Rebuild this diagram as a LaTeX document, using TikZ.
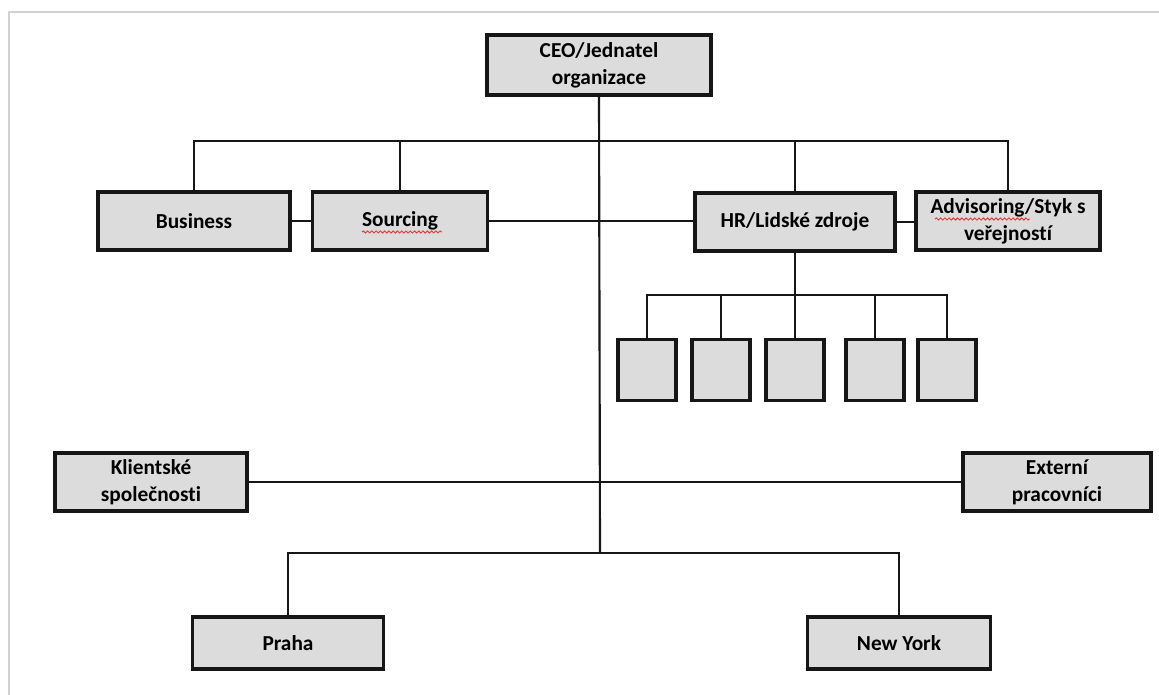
\documentclass[tikz,border=0pt]{standalone}
\usepackage{fontspec}
\setmainfont{Carlito}[Ligatures=NoCommon]
\usepackage{xcolor}
\usepackage{tikz}
\usetikzlibrary{positioning,decorations.pathmorphing}
\definecolor{OrgInk}{HTML}{161616}
\definecolor{OrgFill}{HTML}{DCDCDC}
\definecolor{OrgFrame}{HTML}{D2D2D2}
\definecolor{OrgSpell}{HTML}{E23B3B}
\def\px{0.75pt}

\begin{document}
\begin{tikzpicture}[x=0.75pt,y=-0.75pt,
  unit/.style={draw=OrgInk,fill=OrgFill,line width=2.3pt,inner sep=0pt,align=center,
    font=\bfseries\fontsize{16}{20}\selectfont,minimum height=58*\px},
  subunit/.style={unit,minimum width=58*\px,minimum height=61*\px},
  link/.style={draw=OrgInk,line width=1.6pt},
  spell/.style={draw=OrgSpell,line width=0.7pt,decorate,
    decoration={snake,segment length=3.2pt,amplitude=0.8pt}}]
  \useasboundingbox (0,0) rectangle (1159,695);
  \draw[OrgFrame,line width=1.6pt] (1159,12) -- (9,12) -- (9,695);
  \node[unit,minimum width=224*\px,minimum height=60*\px] (ceo) at (599,65) {CEO/Jednatel\\organizace};
  \node[unit,minimum width=192*\px] (business) at (194,221) {Business};
  \node[unit,minimum width=175*\px] (sourcing) at (400,221) {Sourcing};
  \node[unit,minimum width=200*\px] (hr) at (795,222) {HR/Lidské zdroje};
  \node[unit,minimum width=184*\px] (advis) at (1008,221) {Advisoring/Styk s\\veřejností};
  \foreach \sx [count=\si] in {647,721,795,875,947}
    \node[subunit] (sub\si) at (\sx,370) {};
  \node[unit,minimum width=192*\px] (klient) at (151,482) {Klientské\\společnosti};
  \node[unit,minimum width=188*\px] (externi) at (1057,482) {Externí\\pracovníci};
  \node[unit,minimum width=191*\px,minimum height=52*\px] (praha) at (288,643) {Praha};
  \node[unit,minimum width=183*\px,minimum height=52*\px] (newyork) at (899,643) {New York};
  \coordinate (topbar) at (600,141);
  \coordinate (subbar) at (795,295);
  \coordinate (lowbar) at (600,553);
  \draw[link] (ceo.south) -- (lowbar);
  \draw[link] (business.north) |- (topbar) -| (advis.north);
  \draw[link] (sourcing.north) -- (sourcing.north |- topbar);
  \draw[link] (hr.north) -- (hr.north |- topbar);
  \draw[link] (business.east) -- (sourcing.west);
  \draw[link] (sourcing.east) -- (sourcing.east -| hr.west);
  \draw[link] (hr.east) -- (hr.east -| advis.west);
  \draw[link] (hr.south) -- (sub3.north);
  \draw[link] (sub1.north) |- (subbar) -| (sub5.north);
  \foreach \si in {2,4}
    \draw[link] (sub\si.north) -- (sub\si.north |- subbar);
  \draw[link] (klient.east) -- (externi.west);
  \draw[link] (praha.north) |- (lowbar) -| (newyork.north);
  \draw[spell] (362,232) -- (442,232);
  \draw[spell] (935,219) -- (1030,219);
\end{tikzpicture}
\end{document}
